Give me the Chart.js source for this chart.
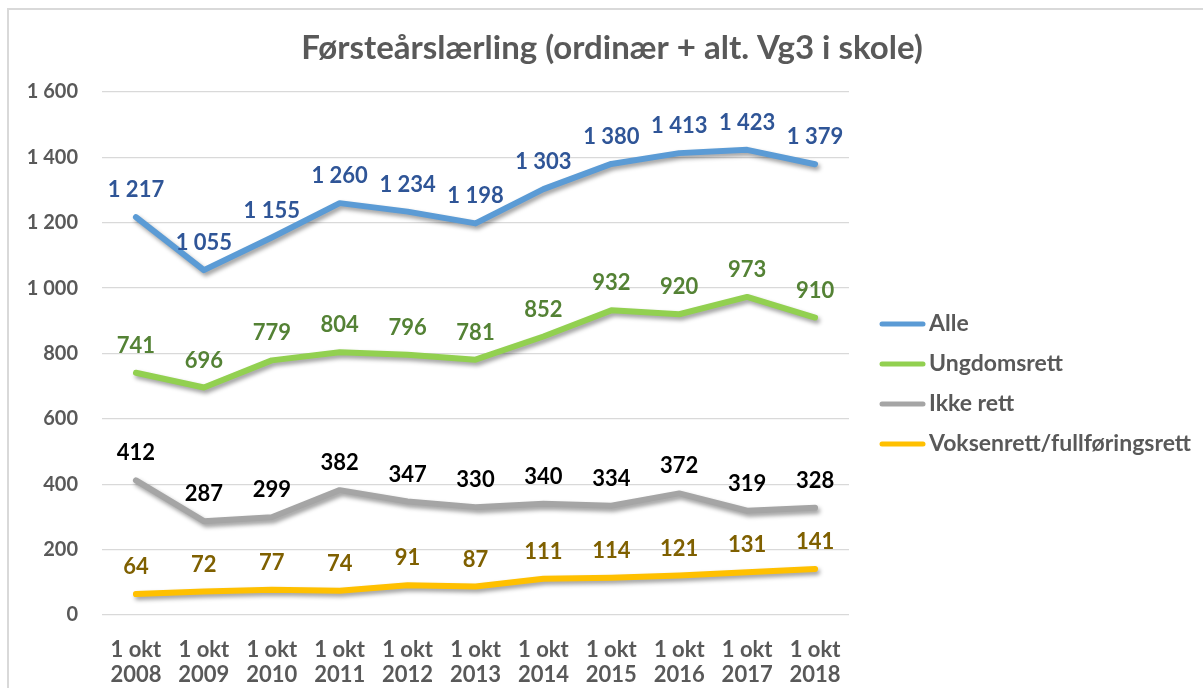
<!DOCTYPE html>
<html>
<head>
<meta charset="utf-8">
<script src="https://cdn.jsdelivr.net/npm/chart.js@4/dist/chart.umd.min.js"></script>
<style>
  html, body { margin: 0; padding: 0; background: #ffffff; }
  #wrap { position: relative; width: 1203px; height: 688px; overflow: hidden; }
  canvas { position: absolute; left: 0; top: 0; }
</style>
</head>
<body>
<div id="wrap"><canvas id="c" width="1203" height="688"></canvas></div>
<script>
// Førsteårslærlinger per 1. oktober
const categories = [
  ['1 okt', '2008'], ['1 okt', '2009'], ['1 okt', '2010'], ['1 okt', '2011'],
  ['1 okt', '2012'], ['1 okt', '2013'], ['1 okt', '2014'], ['1 okt', '2015'],
  ['1 okt', '2016'], ['1 okt', '2017'], ['1 okt', '2018']
];
const alle        = [1217, 1055, 1155, 1260, 1234, 1198, 1303, 1380, 1413, 1423, 1379];
const ungdomsrett = [741, 696, 779, 804, 796, 781, 852, 932, 920, 973, 910];
const ikkeRett    = [412, 287, 299, 382, 347, 330, 340, 334, 372, 319, 328];
const voksenrett  = [64, 72, 77, 74, 91, 87, 111, 114, 121, 131, 141];
const yTicks      = [0, 200, 400, 600, 800, 1000, 1200, 1400, 1600];

const seriesNames  = ['Alle', 'Ungdomsrett', 'Ikke rett', 'Voksenrett/fullføringsrett'];
const lineColors   = ['#5B9BD5', '#92D050', '#A5A5A5', '#FFC000'];
const labelColors  = ['#2F5597', '#548235', '#000000', '#7F6000'];

const FONT = 'Lato, "Open Sans", sans-serif';
const TEXT_GREY = '#595959';

// norsk tallformat: mellomrom som tusenskille
const fmt = v => String(v).replace(/\B(?=(\d{3})+(?!\d))/g, ' ');

const seriesData = [alle, ungdomsrett, ikkeRett, voksenrett];
const datasets = seriesData.map((d, i) => ({
  label: seriesNames[i],
  data: d,
  borderColor: lineColors[i],
  backgroundColor: lineColors[i],
  labelColor: labelColors[i],
  borderWidth: 6,
  borderJoinStyle: 'round',
  borderCapStyle: 'round',
  pointRadius: 0,
  pointHoverRadius: 0,
  tension: 0,
  fill: false
}));

// ramme, tittel og skygge under linjene
const decorPlugin = {
  id: 'decor',
  beforeDraw(chart) {
    const ctx = chart.ctx;
    ctx.save();
    ctx.strokeStyle = '#D9D9D9';
    ctx.lineWidth = 2;
    ctx.beginPath();
    ctx.moveTo(8, 700);
    ctx.lineTo(8, 9);
    ctx.lineTo(1210, 9);
    ctx.stroke();
    ctx.fillStyle = TEXT_GREY;
    ctx.font = 'bold 33px ' + FONT;
    ctx.textAlign = 'center';
    ctx.textBaseline = 'alphabetic';
    ctx.fillText('Førsteårslærling (ordinær + alt. Vg3 i skole)', 612, 59);
    ctx.restore();
  },
  beforeDatasetDraw(chart) {
    const ctx = chart.ctx;
    ctx.save();
    ctx.shadowColor = 'rgba(0,0,0,0.38)';
    ctx.shadowBlur = 4;
    ctx.shadowOffsetX = 2;
    ctx.shadowOffsetY = 3;
  },
  afterDatasetDraw(chart) {
    chart.ctx.restore();
  }
};

// verdietiketter over hvert punkt
const valueLabels = {
  id: 'valueLabels',
  afterDatasetsDraw(chart) {
    const ctx = chart.ctx;
    ctx.save();
    ctx.font = 'bold 22px ' + FONT;
    ctx.textAlign = 'center';
    ctx.textBaseline = 'middle';
    chart.data.datasets.forEach((ds, i) => {
      const meta = chart.getDatasetMeta(i);
      ctx.fillStyle = ds.labelColor;
      meta.data.forEach((pt, j) => {
        ctx.fillText(fmt(ds.data[j]), pt.x, pt.y - 27);
      });
    });
    ctx.restore();
  }
};

// forklaring til høyre
const sideLegend = {
  id: 'sideLegend',
  afterDraw(chart) {
    const ctx = chart.ctx;
    ctx.save();
    ctx.font = 'bold 23px ' + FONT;
    ctx.textBaseline = 'middle';
    ctx.textAlign = 'left';
    const x0 = 882, x1 = 923, tx = 929, y0 = 324, dy = 40;
    chart.data.datasets.forEach((ds, i) => {
      const y = y0 + i * dy;
      ctx.strokeStyle = ds.borderColor;
      ctx.lineWidth = 5;
      ctx.lineCap = 'round';
      ctx.beginPath();
      ctx.moveTo(x0, y);
      ctx.lineTo(x1, y);
      ctx.stroke();
      ctx.fillStyle = TEXT_GREY;
      ctx.fillText(ds.label, tx, y);
    });
    ctx.restore();
  }
};

new Chart(document.getElementById('c'), {
  type: 'line',
  data: { labels: categories, datasets },
  options: {
    responsive: false,
    animation: false,
    events: [],
    layout: { padding: { left: 0, top: 92, right: 354, bottom: 0 } },
    plugins: {
      legend: { display: false },
      title: { display: false },
      tooltip: { enabled: false }
    },
    scales: {
      x: {
        offset: true,
        grid: { display: false },
        border: { display: false },
        ticks: {
          color: TEXT_GREY,
          font: { family: FONT, size: 22, weight: 'bold', lineHeight: 1.15 },
          padding: 14,
          maxRotation: 0,
          autoSkip: false
        },
        afterFit(scale) { scale.height = 73; }
      },
      y: {
        min: 0,
        max: 1600,
        afterBuildTicks(scale) { scale.ticks = yTicks.map(v => ({ value: v })); },
        grid: { color: '#D9D9D9', lineWidth: 1.3, drawTicks: false },
        border: { display: false },
        ticks: {
          color: TEXT_GREY,
          font: { family: FONT, size: 20, weight: 'bold' },
          padding: 24,
          callback: v => fmt(v)
        },
        afterFit(scale) { scale.width = 102; }
      }
    }
  },
  plugins: [decorPlugin, valueLabels, sideLegend]
});
</script>
</body>
</html>
